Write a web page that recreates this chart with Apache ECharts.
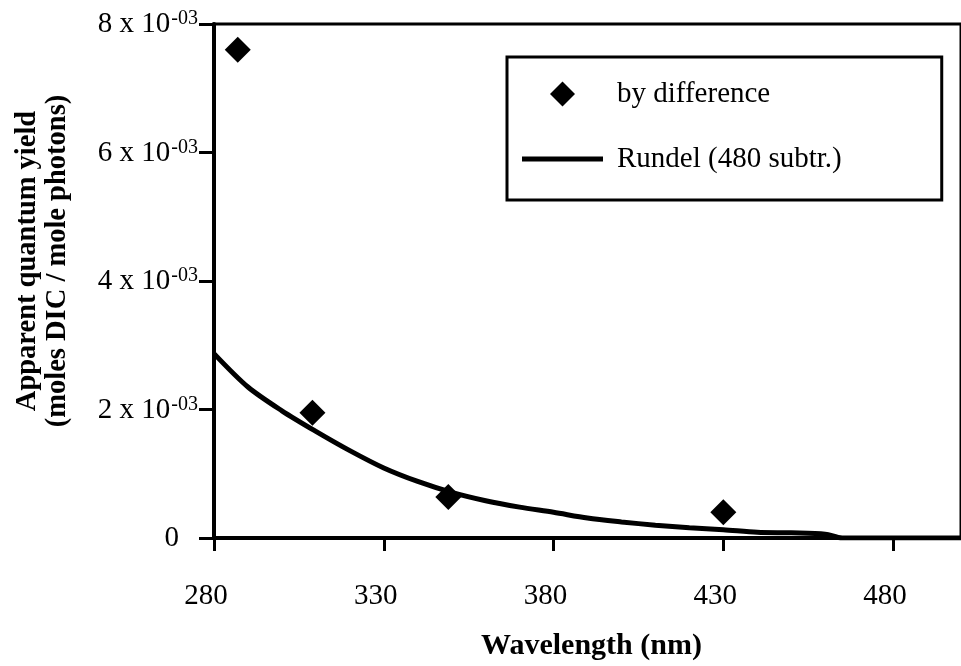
<!DOCTYPE html>
<html>
<head>
<meta charset="utf-8">
<script src="https://cdn.jsdelivr.net/npm/echarts@6/dist/echarts.min.js"></script>
<style>
html,body{margin:0;padding:0;background:#fff;}
#chart{width:961px;height:666px;}
</style>
</head>
<body>
<div id="chart"></div>
<script>
// Wavelength (nm) and apparent quantum yield (units of 1e-3 mol DIC / mol photons)
var diffWavelengths = [287, 309, 349, 430];
var diffValues = [7.60, 1.95, 0.64, 0.40];

var rundelWavelengths = [280, 290, 300, 310, 320, 330, 340, 350, 360, 370, 380, 390, 400, 410, 420, 430, 440, 450, 460, 465, 500];
var rundelValues = [2.87, 2.35, 1.98, 1.66, 1.36, 1.09, 0.88, 0.71, 0.58, 0.48, 0.40, 0.31, 0.25, 0.20, 0.16, 0.13, 0.09, 0.08, 0.06, 0.0, 0.0];

var xTicks = [280, 330, 380, 430, 480];
var yTicks = [0, 2, 4, 6, 8];

var seriesNames = ['by difference', 'Rundel (480 subtr.)'];
var xAxisTitle = 'Wavelength (nm)';
var yAxisTitle = ['Apparent quantum yield', '(moles DIC / mole photons)'];

var FONT = '"Liberation Serif", "Times New Roman", serif';

var chart = echarts.init(document.getElementById('chart'));

function pairs(xs, ys) {
  return xs.map(function (x, i) { return [x, ys[i]]; });
}

var option = {
  backgroundColor: '#ffffff',
  animation: false,
  grid: {
    left: 214, top: 24, right: -8, bottom: 126,
    show: true, borderColor: '#000', borderWidth: 3, backgroundColor: 'transparent'
  },
  xAxis: {
    type: 'value',
    min: 280, max: 500, interval: 50,
    name: xAxisTitle,
    nameLocation: 'middle',
    nameGap: 93,
    nameTextStyle: { fontFamily: FONT, fontWeight: 'bold', fontSize: 30, color: '#000', padding: [0, 0, 0, 8] },
    axisLine: { show: true, lineStyle: { color: '#000', width: 4 } },
    axisTick: { show: true, length: 13, lineStyle: { color: '#000', width: 3 } },
    axisLabel: {
      fontFamily: FONT, fontSize: 29, color: '#000', margin: 44,
      padding: [0, 16, 0, 0],
      showMaxLabel: false,
      formatter: function (v) { return xTicks.indexOf(v) >= 0 ? String(v) : ''; }
    },
    splitLine: { show: false }
  },
  yAxis: {
    type: 'value',
    min: 0, max: 8, interval: 2,
    axisLine: { show: true, lineStyle: { color: '#000', width: 4 } },
    axisTick: { show: true, length: 15, lineStyle: { color: '#000', width: 3 } },
    axisLabel: {
      margin: 16,
      formatter: function (v) {
        if (yTicks.indexOf(v) < 0) return '';
        if (v === 0) return '{z|0}';
        return '{a|' + v + ' x 10}{s|-03}';
      },
      rich: {
        a: { fontFamily: FONT, fontSize: 29, color: '#000', lineHeight: 30, verticalAlign: 'bottom' },
        s: { fontFamily: FONT, fontSize: 20, color: '#000', lineHeight: 19, verticalAlign: 'top', padding: [0, 0, 0, 1] },
        z: { fontFamily: FONT, fontSize: 29, color: '#000', padding: [0, 19, 0, 0] }
      }
    },
    splitLine: { show: false }
  },
  legend: {
    orient: 'vertical',
    left: 507, top: 57,
    padding: [22, 100, 26, 15],
    borderColor: '#000', borderWidth: 3,
    backgroundColor: '#fff',
    itemWidth: 81, itemHeight: 25, itemGap: 35,
    symbolKeepAspect: true,
    textStyle: { fontFamily: FONT, fontSize: 29, color: '#000', lineHeight: 30, padding: [0, 0, 0, 9] },
    data: [
      { name: seriesNames[0], icon: 'path://M12.5,0 L25,12.5 L12.5,25 L0,12.5 Z', itemStyle: { color: '#000', opacity: 1 } },
      { name: seriesNames[1], icon: 'path://M0,0 L80,0 L80,5 L0,5 Z', itemStyle: { color: '#000' }, lineStyle: { color: '#000', width: 5 } }
    ]
  },
  graphic: [{
    type: 'text',
    x: 43, y: 261,
    rotation: Math.PI / 2,
    style: {
      text: yAxisTitle.join('\n'),
      fontFamily: FONT, fontWeight: 'bold', fontSize: 28.5, lineHeight: 30,
      fill: '#000', align: 'center', verticalAlign: 'middle'
    }
  }],
  series: [
    {
      name: seriesNames[1],
      type: 'line',
      data: pairs(rundelWavelengths, rundelValues),
      symbol: 'none',
      smooth: 0.3,
      lineStyle: { color: '#000', width: 5 },
      itemStyle: { color: '#000' },
      z: 3
    },
    {
      name: seriesNames[0],
      type: 'scatter',
      data: pairs(diffWavelengths, diffValues),
      symbol: 'diamond',
      symbolSize: 26,
      symbolKeepAspect: true,
      itemStyle: { color: '#000', opacity: 1 },
      z: 4
    }
  ]
};

chart.setOption(option);
</script>
</body>
</html>
